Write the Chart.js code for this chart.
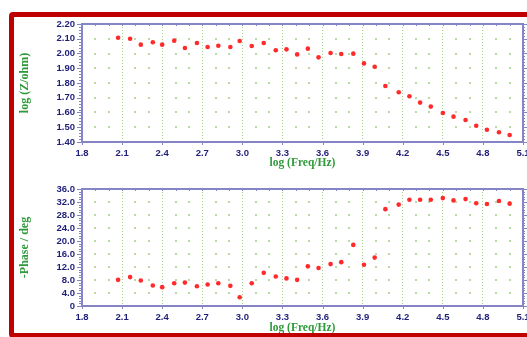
<!DOCTYPE html>
<html>
<head>
<meta charset="utf-8">
<script src="https://cdn.jsdelivr.net/npm/chart.js@4.4.1/dist/chart.umd.min.js"></script>
<style>
  html, body { margin: 0; padding: 0; background: #fff; overflow: hidden; width: 527px; height: 337px; }
  canvas { position: absolute; left: 0; }
  #c1 { top: 0; }
  #c2 { top: 170px; }
  #frame {
    position: absolute; left: 9px; top: 12px; width: 600px; height: 326px;
    border: 5px solid #c00000; border-radius: 4px; box-sizing: border-box;
    pointer-events: none;
  }
</style>
</head>
<body>
<canvas id="c1" width="545" height="170"></canvas>
<canvas id="c2" width="545" height="167"></canvas>
<div id="frame"></div>
<script>
// log frequency of each measurement
const logFreq = [2.07, 2.16, 2.24, 2.33, 2.40, 2.49, 2.57, 2.66, 2.74, 2.82, 2.91, 2.98,
  3.07, 3.16, 3.25, 3.33, 3.41, 3.49, 3.57, 3.66, 3.74, 3.83, 3.91, 3.99,
  4.07, 4.17, 4.25, 4.33, 4.41, 4.50, 4.58, 4.67, 4.75, 4.83, 4.92, 5.00];

// log |Z|
const logZ = [2.107, 2.100, 2.060, 2.076, 2.060, 2.087, 2.037, 2.071, 2.044, 2.053, 2.044, 2.085,
  2.051, 2.071, 2.022, 2.028, 1.994, 2.033, 1.974, 2.003, 1.997, 1.999, 1.933, 1.910,
  1.780, 1.737, 1.710, 1.667, 1.640, 1.597, 1.572, 1.549, 1.510, 1.483, 1.466, 1.447];

// -phase in degrees
const phase = [8.05, 8.9, 7.85, 6.3, 5.8, 7.0, 7.2, 6.1, 6.6, 7.0, 6.2, 2.7,
  7.0, 10.2, 9.1, 8.5, 8.05, 12.2, 11.7, 12.9, 13.5, 18.8, 12.7, 14.9,
  29.8, 31.2, 32.7, 32.7, 32.7, 33.2, 32.5, 32.9, 31.6, 31.4, 32.3, 31.5];

const freqTicks = [1.8, 2.1, 2.4, 2.7, 3.0, 3.3, 3.6, 3.9, 4.2, 4.5, 4.8, 5.1];
const zTicks = [1.4, 1.5, 1.6, 1.7, 1.8, 1.9, 2.0, 2.1, 2.2];
const phaseTicks = [0, 4, 8, 12, 16, 20, 24, 28, 32, 36];

const AXIS = '#8585c6';
const GREEN_LINE = '#a6d28c';
const GREEN_DOT = '#b9dca4';
const LABEL = '#1f1f7a';
const TITLE = '#2f9a3a';

// dotted minor grid + boxed axes with tick marks
const boxPlugin = {
  id: 'boxPlugin',
  beforeDatasetsDraw(chart) {
    const { ctx, scales: { x, y } } = chart;
    const step = (freqTicks[1] - freqTicks[0]) / 3;
    const n = Math.round((freqTicks[freqTicks.length - 1] - freqTicks[0]) / step);
    const yt = y.ticks;
    ctx.save();
    ctx.fillStyle = GREEN_DOT;
    for (let i = 1; i < n; i++) {
      if (i % 3 === 0) continue;
      const px = Math.round(x.getPixelForValue(freqTicks[0] + i * step));
      for (let k = 1; k < yt.length - 1; k++) {
        const py = Math.round(y.getPixelForValue(yt[k].value));
        ctx.fillRect(px - 1, py - 1, 2, 2);
      }
    }
    ctx.restore();
  },
  afterDraw(chart) {
    const { ctx, chartArea: a, scales: { x, y } } = chart;
    ctx.save();
    ctx.strokeStyle = AXIS;
    ctx.lineWidth = 1;
    // y minor/major ticks on left (outward) and right (inward)
    const yt = y.ticks.map(t => t.value);
    const ystep = (yt[1] - yt[0]) / 5;
    const ny = Math.round((yt[yt.length - 1] - yt[0]) / ystep);
    ctx.beginPath();
    for (let i = 0; i <= ny; i++) {
      const py = Math.round(y.getPixelForValue(yt[0] + i * ystep)) + 0.5;
      const len = i % 5 === 0 ? 5 : 3;
      ctx.moveTo(a.left - len, py); ctx.lineTo(a.left, py);
      ctx.moveTo(a.right, py); ctx.lineTo(a.right + len - 1, py);
    }
    // x ticks on top (inward) and bottom (outward)
    const xstep = (freqTicks[1] - freqTicks[0]) / 3;
    const nx = Math.round((freqTicks[freqTicks.length - 1] - freqTicks[0]) / xstep);
    for (let i = 0; i <= nx; i++) {
      const px = Math.round(x.getPixelForValue(freqTicks[0] + i * xstep)) + 0.5;
      ctx.moveTo(px, a.top); ctx.lineTo(px, a.top + 2);
      if (i % 3 === 0) { ctx.moveTo(px, a.bottom); ctx.lineTo(px, a.bottom + 3); }
    }
    ctx.stroke();
    ctx.lineWidth = 2;
    ctx.strokeRect(a.left, a.top, a.right - a.left, a.bottom - a.top);
    ctx.restore();
  }
};

function makeChart(id, values, yTicks, yTitle, area, fmt, titleGap) {
  const canvas = document.getElementById(id);
  const H = canvas.height;
  const points = logFreq.map((f, i) => ({ x: f, y: values[i] }));
  return new Chart(canvas.getContext('2d'), {
    type: 'scatter',
    data: {
      datasets: [{
        data: points,
        backgroundColor: '#ff2a2a',
        borderWidth: 0,
        pointRadius: 2.3,
        pointHoverRadius: 2.3
      }]
    },
    options: {
      responsive: false,
      animation: false,
      devicePixelRatio: 1,
      layout: { padding: { left: 0, top: area.top, right: canvas.width - area.right, bottom: 0 } },
      plugins: { legend: { display: false }, tooltip: { enabled: false } },
      scales: {
        x: {
          type: 'linear',
          min: freqTicks[0],
          max: freqTicks[freqTicks.length - 1],
          afterBuildTicks: s => { s.ticks = freqTicks.map(v => ({ value: v })); },
          afterFit: s => { s.height = H - area.bottom; },
          grid: {
            drawTicks: false,
            lineWidth: 1,
            color: c => (c.index === 0 || c.index === freqTicks.length - 1) ? 'rgba(0,0,0,0)' : GREEN_LINE
          },
          border: { display: false, dash: [1, 2] },
          ticks: {
            padding: 6,
            color: LABEL,
            font: { family: 'Liberation Sans, Arial, sans-serif', size: 9.5, weight: 'bold' },
            maxRotation: 0,
            autoSkip: false,
            callback: v => Number(v).toFixed(1)
          },
          title: {
            display: true,
            text: 'log (Freq/Hz)',
            color: TITLE,
            padding: { top: 0, bottom: titleGap },
            font: { family: 'Liberation Serif, Times New Roman, serif', size: 11.5, weight: 'bold' }
          }
        },
        y: {
          type: 'linear',
          min: yTicks[0],
          max: yTicks[yTicks.length - 1],
          afterBuildTicks: s => { s.ticks = yTicks.map(v => ({ value: v })); },
          afterFit: s => { s.width = area.left; },
          grid: { drawOnChartArea: false, drawTicks: false },
          border: { display: false },
          ticks: {
            padding: 7,
            color: LABEL,
            font: { family: 'Liberation Sans, Arial, sans-serif', size: 9.5, weight: 'bold' },
            autoSkip: false,
            callback: fmt
          },
          title: {
            display: true,
            text: yTitle,
            color: TITLE,
            padding: { top: 18, bottom: 0 },
            font: { family: 'Liberation Serif, Times New Roman, serif', size: 12, weight: 'bold' }
          }
        }
      }
    },
    plugins: [boxPlugin]
  });
}

makeChart('c1', logZ, zTicks, 'log (Z/ohm)',
  { left: 82, top: 24, right: 523, bottom: 142 },
  v => Number(v).toFixed(2), 0);

makeChart('c2', phase, phaseTicks, '-Phase / deg',
  { left: 82, top: 19, right: 523, bottom: 136 },
  v => (v === 0 ? '0' : Number(v).toFixed(1)), 2);
</script>
</body>
</html>
